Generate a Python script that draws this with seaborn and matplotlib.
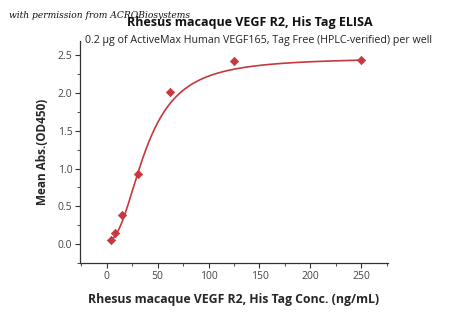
import numpy as np
import pandas as pd
import matplotlib
matplotlib.use("Agg")
import matplotlib.pyplot as plt
import seaborn as sns
from matplotlib.ticker import MultipleLocator

conc = [3.9, 7.8, 15.6, 31.25, 62.5, 125, 250]
od450 = [0.05, 0.14, 0.39, 0.93, 2.01, 2.43, 2.44]
title = "Rhesus macaque VEGF R2, His Tag ELISA"
subtitle = "0.2 \u03bcg of ActiveMax Human VEGF165, Tag Free (HPLC-verified) per well"
xlabel = "Rhesus macaque VEGF R2, His Tag Conc. (ng/mL)"
ylabel = "Mean Abs.(OD450)"
watermark = "with permission from ACROBiosystems"

# 4PL fit parameters
fit_bottom, fit_top, fit_ec50, fit_hill = 0.04, 2.47, 38.6, 2.3

df = pd.DataFrame({"conc": conc, "od": od450})
xs = np.linspace(min(conc), max(conc), 400)
curve = pd.DataFrame({"conc": xs,
                      "od": fit_bottom + (fit_top - fit_bottom) / (1 + (fit_ec50 / xs) ** fit_hill)})

sns.set_style("ticks")
plt.rcParams["font.family"] = ["Open Sans", "DejaVu Sans"]

red = "#C8373D"
fig = plt.figure(figsize=(4.5, 3.16), dpi=100)
ax = fig.add_axes([0.178, 0.168, 0.684, 0.702])
sns.lineplot(data=curve, x="conc", y="od", ax=ax, color=red, lw=1.2)
sns.scatterplot(data=df, x="conc", y="od", ax=ax, color=red, marker="D", s=18,
                edgecolor=red, linewidth=0.5, zorder=3)

ax.set_xlim(-26, 276)
ax.set_ylim(-0.25, 2.69)
ax.xaxis.set_major_locator(MultipleLocator(50))
ax.xaxis.set_minor_locator(MultipleLocator(25))
ax.yaxis.set_major_locator(MultipleLocator(0.5))
ax.yaxis.set_minor_locator(MultipleLocator(0.25))
ax.yaxis.set_major_formatter(matplotlib.ticker.FormatStrFormatter("%.1f"))
ax.tick_params(axis="both", which="major", length=3.5, width=0.8, labelsize=7.5,
               colors="#333333", labelcolor="#444444", pad=2)
ax.tick_params(axis="both", which="minor", length=2, width=0.6, colors="#333333")
for s in ["top", "right"]:
    ax.spines[s].set_visible(False)
for s in ["left", "bottom"]:
    ax.spines[s].set_linewidth(0.9)
    ax.spines[s].set_color("#333333")

ax.set_xlabel(xlabel, fontsize=8.8, fontweight="bold", labelpad=8)
ax.set_ylabel(ylabel, fontsize=8.5, fontweight="bold", labelpad=6)

fig.text(0.555, 0.93, title, ha="center", va="center", fontsize=9, fontweight="bold", color="#111111")
fig.text(0.188, 0.872, subtitle, ha="left", va="center", fontsize=7.7, color="#222222")
fig.text(0.02, 0.95, watermark, ha="left", va="center", fontsize=6.6, style="italic",
         family=["DejaVu Serif"], color="#111111")

fig.savefig("out.png", dpi=100)
